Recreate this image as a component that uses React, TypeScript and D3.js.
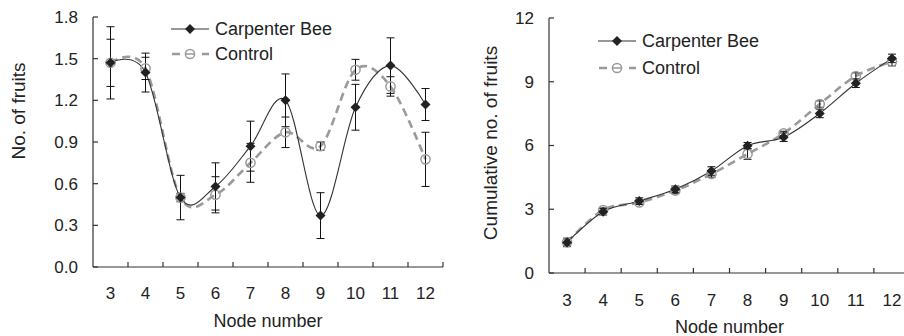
import React from "react";
import * as d3 from "d3";

// node numbers along the stem
const nodes = [3, 4, 5, 6, 7, 8, 9, 10, 11, 12];

// No. of fruits per node
const beeFruits = [1.47, 1.4, 0.5, 0.58, 0.87, 1.2, 0.37, 1.15, 1.45, 1.17];
const beeFruitsErr = [0.26, 0.14, 0.16, 0.17, 0.18, 0.19, 0.165, 0.165, 0.2, 0.115];
const ctrlFruits = [1.47, 1.43, 0.5, 0.52, 0.75, 0.97, 0.87, 1.42, 1.3, 0.775];
const ctrlFruitsErr = [0.17, 0.08, 0.03, 0.13, 0.14, 0.11, 0.03, 0.075, 0.07, 0.195];

// cumulative no. of fruits
const beeCum = [1.44, 2.88, 3.39, 3.94, 4.8, 5.99, 6.39, 7.51, 8.93, 10.1];
const beeCumErr = [0.2, 0.15, 0.15, 0.15, 0.2, 0.15, 0.2, 0.2, 0.2, 0.2];
const ctrlCum = [1.45, 2.96, 3.32, 3.88, 4.66, 5.6, 6.57, 7.95, 9.27, 9.95];
const ctrlCumErr = [0.15, 0.1, 0.1, 0.15, 0.15, 0.25, 0.1, 0.15, 0.15, 0.2];

const fruitTicks = [0, 0.3, 0.6, 0.9, 1.2, 1.5, 1.8];
const cumTicks = [0, 3, 6, 9, 12];

const legendNames = ["Carpenter Bee", "Control"];

const FONT = "'Liberation Sans', Arial, sans-serif";
const TEXT = "#222";
const AXIS = "#333";
const BEE = "#333";
const CTRL = "#9a9a9a";

function Diamond({ x, y, s = 5 }) {
  return <path d={`M${x},${y - s}L${x + s},${y}L${x},${y + s}L${x - s},${y}Z`} fill="#222" />;
}

function Panel({ xRange, yTop, yBottom, yMax, ticks, fmt, bee, beeErr, ctrl, ctrlErr,
  yTitle, yTitleX, yTitleY, yTitleSize, tickLabelGap, xLabelY, xTitleY, legendX, legendY, legendGap, showMarkers }) {
  const x = d3.scaleBand<number>().domain(nodes).range(xRange).padding(0);
  const y = d3.scaleLinear().domain([0, yMax]).range([yBottom, yTop]);
  const cx = (n: number) => (x(n) as number) + x.bandwidth() / 2;
  const line = d3.line<number>().x((_, i) => cx(nodes[i])).y(d => y(d)).curve(d3.curveCardinal.tension(0));
  const bounds = [...nodes.map(n => x(n) as number), xRange[1]];
  const x0 = xRange[0];

  const errBars = (vals: number[], errs: number[], key: string) =>
    vals.map((v, i) => {
      const px = cx(nodes[i]);
      const t = y(v + errs[i]), b = y(v - errs[i]);
      return (
        <g key={key + i} stroke="#111" strokeWidth={1}>
          <line x1={px} x2={px} y1={t} y2={b} />
          <line x1={px - 4} x2={px + 4} y1={t} y2={t} />
          <line x1={px - 4} x2={px + 4} y1={b} y2={b} />
        </g>
      );
    });

  return (
    <g fontFamily={FONT}>
      {/* axes */}
      <line x1={x0} x2={x0} y1={yTop} y2={yBottom} stroke={AXIS} strokeWidth={1.2} />
      <line x1={x0} x2={xRange[1]} y1={yBottom} y2={yBottom} stroke={AXIS} strokeWidth={1.2} />
      {ticks.map(t => (
        <g key={"yt" + t}>
          <line x1={x0} x2={x0 + 5} y1={y(t)} y2={y(t)} stroke={AXIS} strokeWidth={1.2} />
          <text x={x0 - tickLabelGap} y={y(t)} dy="0.35em" textAnchor="end" fontSize={17} fill={TEXT}>{fmt(t)}</text>
        </g>
      ))}
      {bounds.slice(1).map((b, i) => (
        <line key={"xt" + i} x1={b} x2={b} y1={yBottom} y2={yBottom - 5} stroke={AXIS} strokeWidth={1.2} />
      ))}
      {nodes.map(n => (
        <text key={"xl" + n} x={cx(n)} y={xLabelY} textAnchor="middle" fontSize={17} fill={TEXT}>{n}</text>
      ))}
      <text x={(xRange[0] + xRange[1]) / 2} y={xTitleY} textAnchor="middle" fontSize={18} fill={TEXT}>Node number</text>
      <text transform={`translate(${yTitleX},${yTitleY}) rotate(-90)`} textAnchor="middle" fontSize={yTitleSize} fill={TEXT}>{yTitle}</text>

      {/* series */}
      <path d={line(ctrl) as string} fill="none" stroke={CTRL} strokeWidth={2.6} strokeDasharray="8,5" />
      <path d={line(bee) as string} fill="none" stroke={BEE} strokeWidth={1.1} />
      {errBars(ctrl, ctrlErr, "ce")}
      {errBars(bee, beeErr, "be")}
      {ctrl.map((v, i) => (
        <circle key={"cc" + i} cx={cx(nodes[i])} cy={y(v)} r={4.6} fill="none" stroke={CTRL} strokeWidth={1.5} />
      ))}
      {bee.map((v, i) => <Diamond key={"bd" + i} x={cx(nodes[i])} y={y(v)} />)}

      {/* legend */}
      <line x1={legendX} x2={legendX + 38} y1={legendY} y2={legendY} stroke={BEE} strokeWidth={1.1} />
      <Diamond x={legendX + 19} y={legendY} />
      <text x={legendX + 44} y={legendY} dy="0.36em" fontSize={18} fill={TEXT}>{legendNames[0]}</text>
      <line x1={legendX} x2={legendX + 38} y1={legendY + legendGap} y2={legendY + legendGap} stroke={CTRL} strokeWidth={2.6} strokeDasharray="8,7" strokeDashoffset={-1} />
      <circle cx={legendX + 19} cy={legendY + legendGap} r={4.6} fill="white" stroke={CTRL} strokeWidth={1.5} />
      <line x1={legendX + 15} x2={legendX + 23} y1={legendY + legendGap} y2={legendY + legendGap} stroke={CTRL} strokeWidth={1.5} />
      <text x={legendX + 44} y={legendY + legendGap} dy="0.36em" fontSize={18} fill={TEXT}>{legendNames[1]}</text>
    </g>
  );
}

export default function App() {
  return (
    <div style={{ position: "absolute", left: 0, top: 0 }}>
      <svg width={904} height={336} style={{ display: "block", background: "white" }}>
        <Panel xRange={[93, 443]} yTop={17} yBottom={267} yMax={1.8} ticks={fruitTicks}
          fmt={d3.format(".1f")} bee={beeFruits} beeErr={beeFruitsErr} ctrl={ctrlFruits} ctrlErr={ctrlFruitsErr}
          yTitle="No. of fruits" yTitleX={25} yTitleY={111} yTitleSize={19} tickLabelGap={15}
          xLabelY={299} xTitleY={327} legendX={171} legendY={29} legendGap={25} showMarkers />
        <Panel xRange={[549, 910]} yTop={18} yBottom={273} yMax={12} ticks={cumTicks}
          fmt={d3.format("d")} bee={beeCum} beeErr={beeCumErr} ctrl={ctrlCum} ctrlErr={ctrlCumErr}
          yTitle="Cumulative no. of fruits" yTitleX={497} yTitleY={143} yTitleSize={19} tickLabelGap={15}
          xLabelY={306} xTitleY={333} legendX={598} legendY={41} legendGap={27} showMarkers />
      </svg>
    </div>
  );
}
